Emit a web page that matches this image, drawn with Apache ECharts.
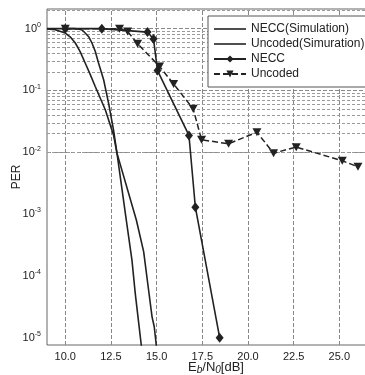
<!DOCTYPE html>
<html>
<head>
<meta charset="utf-8">
<script src="https://cdn.jsdelivr.net/npm/echarts@6/dist/echarts.min.js"></script>
<style>
  html, body { margin: 0; padding: 0; background: #fff; }
  #chart { width: 365px; height: 375px; }
</style>
</head>
<body>
<div id="chart"></div>
<script>
// Packet error rate vs Eb/N0
const simNeccX = [9.0, 10.5, 10.73, 10.92, 11.09, 11.28, 11.46, 11.64, 11.82, 12.10, 12.37, 12.64, 12.83, 13.34, 13.65, 13.83, 13.98, 14.16, 14.25];
const simNeccY = [1, 1, 0.99, 0.95, 0.85, 0.74, 0.586, 0.43, 0.278, 0.149, 0.0625, 0.0231, 0.00967, 8.0e-4, 1.8e-4, 5.2e-5, 2.17e-5, 7.6e-6, 4e-6];

const simUncodedX = [9.0, 9.45, 10.0, 10.28, 10.55, 10.82, 11.09, 11.37, 11.64, 12.19, 12.64, 12.83, 13.89, 14.29, 14.56, 14.75, 14.87, 14.98, 15.05];
const simUncodedY = [0.99, 0.963, 0.85, 0.73, 0.586, 0.42, 0.278, 0.18, 0.116, 0.0487, 0.0191, 0.00967, 8.0e-4, 2.46e-4, 5.9e-5, 2.17e-5, 1.5e-5, 7.6e-6, 4e-6];

const neccX = [10, 12.0, 14.5, 14.83, 15.05, 16.77, 17.12, 18.45];
const neccY = [1, 1, 0.88, 0.68, 0.21, 0.0187, 0.00129, 1e-5];

const uncodedX = [10, 12.97, 13.41, 13.96, 15.16, 15.93, 17.0, 17.46, 18.94, 20.49, 21.40, 22.64, 25.16, 26.02];
const uncodedY = [1, 1, 0.9, 0.57, 0.245, 0.127, 0.0505, 0.0159, 0.0137, 0.0211, 0.00966, 0.0121, 0.0073, 0.0058];

const xTicks = [10, 12.5, 15, 17.5, 20, 22.5, 25, 27.5];
const yDecades = [1e-5, 1e-4, 1e-3, 1e-2, 1e-1, 1];
const yMin = 7.6e-6, yMax = 2.08;

const zip = (xs, ys) => xs.map((x, i) => [x, ys[i]]);

// minor log grid lines: 2..9 within every decade
const yMinor = [];
for (let e = -6; e <= 0; e++) {
  for (let k = 2; k <= 9; k++) {
    const v = k * Math.pow(10, e);
    if (v > yMin && v < yMax) yMinor.push(v);
  }
}

const gridDash = { color: '#9a9a9a', width: 1, type: [3, 2] };
const majorDash = { color: '#888', width: 1, type: [4, 2] };
const font = 'Liberation Sans, Arial, Helvetica, sans-serif';
const ink = '#222';
const plainLineIcon = 'path://M0,0H32V1.6H0Z';

const supLabel = v => {
  const e = Math.round(Math.log10(v));
  return '{b|10}{s|' + e + '}';
};

const chart = echarts.init(document.getElementById('chart'), null, { renderer: 'canvas' });
chart.setOption({
  animation: false,
  backgroundColor: '#fff',
  grid: {
    left: 47, top: 9, width: 338, height: 336,
    outerBoundsMode: 'none', containLabel: false,
    show: true, borderColor: '#666', borderWidth: 1, backgroundColor: 'transparent'
  },
  legend: {
    z: 20,
    left: 208, top: 16,
    orient: 'vertical',
    backgroundColor: '#fff',
    borderColor: '#555', borderWidth: 1,
    padding: [6, 6, 6, 5],
    itemWidth: 32, itemHeight: 9, itemGap: 1,
    symbolKeepAspect: true,
    textStyle: { fontFamily: font, fontSize: 12, color: ink, lineHeight: 14 },
    data: [
      { name: 'NECC(Simulation)', icon: plainLineIcon },
      { name: 'Uncoded(Simuration)', icon: plainLineIcon },
      'NECC',
      'Uncoded'
    ]
  },
  xAxis: {
    type: 'value', min: 9, max: 27.5,
    name: '{n|E}{i|b}{n|/N}{i|0}{n|[dB]}',
    nameLocation: 'middle', nameGap: 14, nameMoveOverlap: false,
    nameTextStyle: {
      rich: {
        n: { fontFamily: font, fontSize: 13, color: ink },
        i: { fontFamily: font, fontSize: 10, fontStyle: 'italic', color: ink, padding: [6, 0, 0, 0] }
      }
    },
    axisLine: { show: false },
    axisTick: { show: false },
    splitLine: { show: false },
    axisLabel: {
      customValues: xTicks.slice(0, 7),
      formatter: v => v.toFixed(1),
      fontFamily: font, fontSize: 11, color: ink, margin: 6
    }
  },
  yAxis: {
    type: 'log', logBase: 10, min: yMin, max: yMax,
    name: 'PER', nameLocation: 'middle', nameGap: 24, nameMoveOverlap: false,
    nameTextStyle: { fontFamily: font, fontSize: 12, color: ink },
    axisLine: { show: false },
    axisTick: { show: false },
    splitLine: { show: false },
    minorSplitLine: { show: false },
    axisLabel: {
      customValues: yDecades,
      formatter: supLabel,
      margin: 6,
      rich: {
        b: { fontFamily: font, fontSize: 11, color: ink },
        s: { fontFamily: font, fontSize: 7, color: ink, padding: [0, 0, 7, 0] }
      }
    }
  },
  series: [
    {
      // grid lines
      name: 'grid', type: 'line', data: [], silent: true, z: 1,
      markLine: {
        z: 1,
        silent: true, symbol: ['none', 'none'], label: { show: false },
        lineStyle: gridDash,
        data: [
          ...xTicks.map(v => ({ xAxis: v, lineStyle: majorDash })),
          ...yDecades.map(v => ({ yAxis: v, lineStyle: majorDash })),
          ...yMinor.map(v => ({ yAxis: v }))
        ]
      }
    },
    {
      name: 'NECC(Simulation)', type: 'line', data: zip(simNeccX, simNeccY),
      symbol: 'none', clip: true,
      lineStyle: { color: ink, width: 1.6 }, itemStyle: { color: ink }, z: 3
    },
    {
      name: 'Uncoded(Simuration)', type: 'line', data: zip(simUncodedX, simUncodedY),
      symbol: 'none', clip: true,
      lineStyle: { color: ink, width: 1.6 }, itemStyle: { color: ink }, z: 3
    },
    {
      name: 'NECC', type: 'line', data: zip(neccX, neccY),
      symbol: 'diamond', symbolSize: [8, 10], clip: true,
      lineStyle: { color: ink, width: 1.6 }, itemStyle: { color: ink }, z: 4
    },
    {
      name: 'Uncoded', type: 'line', data: zip(uncodedX, uncodedY),
      symbol: 'triangle', symbolRotate: 180, symbolSize: [9, 8], clip: true,
      lineStyle: { color: ink, width: 1.5, type: [6, 3] }, itemStyle: { color: ink }, z: 5
    }
  ]
});
</script>
</body>
</html>
